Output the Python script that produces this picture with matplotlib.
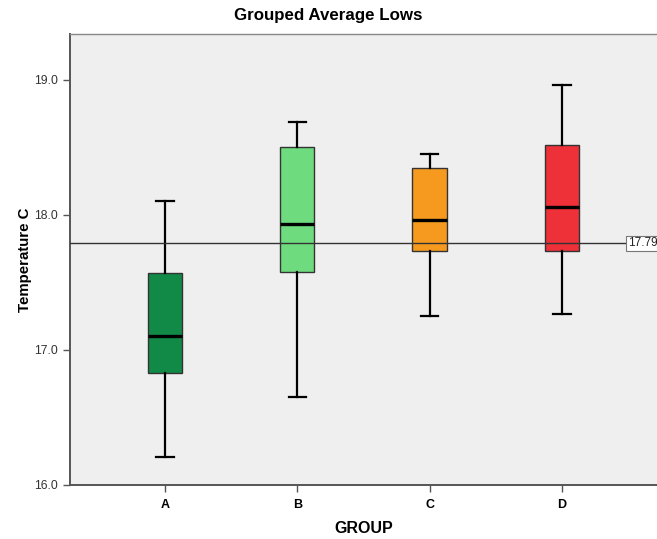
import matplotlib
matplotlib.use("Agg")
import matplotlib.pyplot as plt

plt.rcParams["font.family"] = ["Liberation Sans", "DejaVu Sans"]

groups = ["A", "B", "C", "D"]
whisker_low = [16.21, 16.65, 17.25, 17.27]
q1 = [16.83, 17.58, 17.73, 17.73]
median = [17.10, 17.93, 17.96, 18.06]
q3 = [17.57, 18.50, 18.35, 18.52]
whisker_high = [18.10, 18.69, 18.45, 18.96]
colors = ["#118A47", "#6EDC7E", "#F69A1F", "#EE3039"]
ref_value = 17.79


def main():
    fig = plt.figure(figsize=(6.57, 5.39), dpi=100)
    ax = fig.add_axes([0.1065, 0.1002, 0.8935, 0.8367])
    ax.set_facecolor("#EFEFEF")

    stats = []
    for i, g in enumerate(groups):
        stats.append({
            "label": g,
            "whislo": whisker_low[i],
            "q1": q1[i],
            "med": median[i],
            "q3": q3[i],
            "whishi": whisker_high[i],
            "fliers": [],
        })

    bp = ax.bxp(
        stats,
        positions=range(1, len(groups) + 1),
        widths=0.26,
        patch_artist=True,
        showfliers=False,
        boxprops=dict(edgecolor="#333333", linewidth=1.0),
        whiskerprops=dict(color="black", linewidth=1.6),
        capprops=dict(color="black", linewidth=1.6),
        medianprops=dict(color="black", linewidth=2.4),
        capwidths=0.13,
        zorder=3,
    )
    for patch, c in zip(bp["boxes"], colors):
        patch.set_facecolor(c)

    # reference line with its value tag
    ax.axhline(ref_value, color="#333333", linewidth=1.0, zorder=4)
    ax.text(
        0.950, ref_value, f"{ref_value:.2f}",
        transform=ax.get_yaxis_transform(),
        ha="left", va="center", fontsize=8.5, color="#222222", zorder=5,
        bbox=dict(boxstyle="square,pad=0.12", facecolor="white",
                  edgecolor="#777777", linewidth=0.8),
    )

    ax.set_xlim(0.283, 4.717)
    ax.set_ylim(16.0, 19.34)
    ax.set_yticks([16.0, 17.0, 18.0, 19.0])
    ax.set_yticklabels(["16.0", "17.0", "18.0", "19.0"], fontsize=8.8, color="#333333")
    ax.set_xticks(range(1, len(groups) + 1))
    ax.set_xticklabels(groups, fontsize=9, fontweight="bold")
    ax.tick_params(axis="both", direction="out", length=5, width=1.0, color="#555555")
    ax.tick_params(axis="x", pad=5)

    for side in ["left", "bottom"]:
        ax.spines[side].set_color("#555555")
        ax.spines[side].set_linewidth(1.4)
    ax.spines["top"].set_color("#888888")
    ax.spines["top"].set_linewidth(1.0)
    ax.spines["right"].set_visible(False)

    ax.set_xlabel("GROUP", fontsize=11.5, fontweight="bold", labelpad=7)
    ax.set_ylabel("Temperature C", fontsize=10.8, fontweight="bold", labelpad=2)
    fig.text(0.5, 0.972, "Grouped Average Lows", ha="center", va="center",
             fontsize=12.2, fontweight="bold")

    fig.savefig("out.png", dpi=100)


if __name__ == "__main__":
    main()
